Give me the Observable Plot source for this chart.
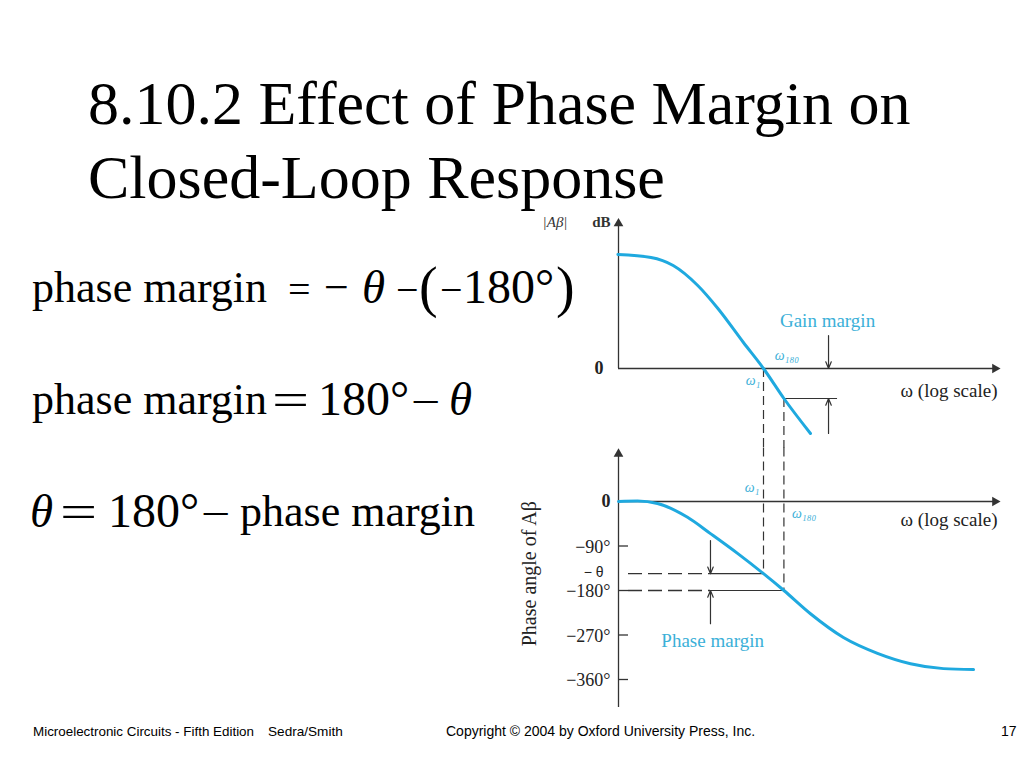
<!DOCTYPE html>
<html>
<head>
<meta charset="utf-8">
<script src="https://cdn.jsdelivr.net/npm/d3@7"></script>
<script src="https://cdn.jsdelivr.net/npm/@observablehq/plot@0.6"></script>
<style>
  html, body { margin: 0; padding: 0; background: #fff; }
  #slide { position: relative; width: 1024px; height: 768px; overflow: hidden; background: #fff; }
  .serif { font-family: "Liberation Serif", "Times New Roman", serif; color: #000; }
  #title { position: absolute; left: 88px; top: 66px; font-size: 62px; line-height: 74px; white-space: nowrap; }
  .tok { position: absolute; white-space: nowrap; line-height: 1; font-family: "Liberation Serif", "Times New Roman", serif; color: #000; }
  .footer { position: absolute; top: 723px; font-family: "Liberation Sans Narrow", "Arial Narrow", "Liberation Sans", Arial, sans-serif; font-size: 14px; color: #000; white-space: nowrap; }
  .plot { position: absolute; left: 510px; }
  .plot svg { overflow: visible; }
</style>
</head>
<body>
<div id="slide">
  <div id="title" class="serif">8.10.2 Effect of Phase Margin on<br>Closed-Loop Response</div>
  <div id="eqs"></div>
  <div class="footer" style="left:33px;font-size:13.4px;top:723.5px">Microelectronic Circuits - Fifth Edition</div>
  <div class="footer" style="left:268px;font-size:13.6px;top:723.5px">Sedra/Smith</div>
  <div class="footer" style="left:446px">Copyright © 2004 by Oxford University Press, Inc.</div>
  <div class="footer" style="left:1001px">17</div>
  <div id="top" class="plot" style="top:205px"></div>
  <div id="bottom" class="plot" style="top:440px"></div>
</div>
<script>
// ---- data ----
const omegaMag   = [0.035, 0.075, 0.125, 0.22, 0.35, 0.63, 1, 1.6, 2.95];
const gainDb     = [57, 55.5, 51.5, 41.5, 30, 13, 0, -15, -32.5];
const omegaPhase = [0.0355, 0.055, 0.087, 0.174, 0.295, 0.55, 1, 1.6, 2.95, 6.3, 13.8, 29.5, 63, 126];
const phaseDeg   = [0, 1, -4, -32, -65, -105, -146, -180, -227, -275, -307, -328, -338, -340];
const omega1 = 1;          // gain crossover
const omega180 = 1.6;      // phase crossover
const theta = 146;         // -theta = phase at omega1
const phaseTicks = [-90, -180, -270, -360];
const phaseTickLabels = ["−90°", "−180°", "−270°", "−360°"];
const gainMarginDb = -15;

// ---- equations (text tokens) ----
const eqTokens = [
  // [text, left, baseline, fontSize, italic, scaleX]
  ["phase margin", 32, 303, 44, false, 1],
  ["=", 288, 303, 40, false, 1],
  ["−", 324, 303, 44, false, 1],
  ["θ", 362, 303, 47, true, 1],
  ["−", 396, 303, 40, false, 1],
  ["(", 419, 306, 56, false, 1],
  ["−", 440, 303, 40, false, 1],
  ["180°", 463, 303, 48, false, 1],
  [")", 556, 306, 56, false, 1],
  ["phase margin", 32, 415, 44, false, 1],
  ["=", 272, 415, 47, false, 1.4],
  ["180°", 318, 415, 48, false, 1],
  ["−", 411, 415, 40, false, 1.3],
  ["θ", 449, 415, 47, true, 1],
  ["θ", 30, 527, 47, true, 1],
  ["=", 60, 527, 47, false, 1.4],
  ["180°", 108, 527, 48, false, 1],
  ["−", 201, 527, 40, false, 1.3],
  ["phase margin", 240, 527, 44, false, 1]
];
const eqs = document.getElementById("eqs");
for (const [t, x, base, fs, it, sx] of eqTokens) {
  const s = document.createElement("span");
  s.className = "tok";
  s.textContent = t;
  s.style.left = x + "px";
  s.style.top = (base - 0.8375 * fs) + "px";
  s.style.fontSize = fs + "px";
  if (it) s.style.fontStyle = "italic";
  if (sx !== 1) { s.style.transform = `scaleX(${sx})`; s.style.transformOrigin = "left"; }
  eqs.appendChild(s);
}

const cyan = "#1fa9df";
const cyanText = "#3bb0d8";
const ink = "#333";
const font = "Liberation Serif, Times New Roman, serif";

const xMin = Math.pow(10, -1.45), xMax = Math.pow(10, 2.34);
const W = 500;
const common = {
  width: W, marginLeft: 108, marginRight: 13,
  x: {type: "log", domain: [xMin, xMax], axis: null},
  style: {background: "transparent", fontFamily: font, overflow: "visible"}
};

// ---- magnitude plot ----
const magData = omegaMag.map((w, i) => ({w, db: gainDb[i]}));
const topPlot = Plot.plot({
  ...common,
  height: 240, marginTop: 10, marginBottom: 10,
  y: {domain: [-33.5, 76.5], axis: null},
  marks: [
    Plot.ruleX([xMin], {y1: 0, y2: 72, stroke: ink, strokeWidth: 1.3}),
    Plot.dot([{x: xMin, y: 72.5}], {x: "x", y: "y", symbol: "triangle", r: 3.6, fill: ink, stroke: null}),
    Plot.ruleY([0], {x1: xMin, x2: xMax / 1.07, stroke: ink, strokeWidth: 1.3}),
    Plot.dot([{x: xMax / 1.06, y: 0}], {x: "x", y: "y", symbol: "triangle", r: 3.6, rotate: 90, fill: ink, stroke: null}),
    // dashed verticals
    Plot.ruleX([omega1], {y1: 0, y2: -40, stroke: ink, strokeWidth: 1.2, strokeDasharray: "9,5"}),
    Plot.ruleX([omega180], {y1: gainMarginDb, y2: -40, stroke: ink, strokeWidth: 1.2, strokeDasharray: "9,5"}),
    // gain margin
    Plot.ruleY([gainMarginDb], {x1: omega180, x2: 5.5, stroke: ink, strokeWidth: 1.2}),
    Plot.arrow([{x: 4.47, y1: -32.5, y2: gainMarginDb}], {x: "x", y1: "y1", y2: "y2", stroke: ink, strokeWidth: 1.2, headLength: 9, headAngle: 45}),
    Plot.arrow([{x: 4.47, y1: 16.5, y2: 0}], {x: "x", y1: "y1", y2: "y2", stroke: ink, strokeWidth: 1.2, headLength: 9, headAngle: 45}),
    // curve
    Plot.line(magData, {x: "w", y: "db", stroke: cyan, strokeWidth: 3, curve: "monotone-x"}),
    // labels
    Plot.text(["Gain margin"], {x: 4.37, y: 24, fill: cyanText, fontSize: 19, textAnchor: "middle", fontFamily: font}),
    Plot.text(["ω₁₈₀"], {x: omega180, y: 6.5, dx: 3, fill: cyanText, fontSize: 14, fontStyle: "italic", textAnchor: "middle", fontFamily: font}),
    Plot.text(["ω₁"], {x: omega1, y: -6, dx: -3, fill: cyanText, fontSize: 14, fontStyle: "italic", textAnchor: "end", fontFamily: font}),
    Plot.text(["0"], {x: xMin, y: 0, dx: -15, fill: "#222", fontSize: 18, textAnchor: "end", fontWeight: "bold", fontFamily: font}),
    Plot.text(["dB"], {x: xMin, y: 73, dx: -8, fill: "#333", fontSize: 15, textAnchor: "end", fontWeight: "bold", fontFamily: font}),
    Plot.text(["|Aβ|"], {x: xMin, y: 73, dx: -51, fill: "#333", fontSize: 15, fontStyle: "italic", textAnchor: "end", fontFamily: font}),
    Plot.text(["ω (log scale)"], {x: xMax, y: -11, fill: "#222", fontSize: 19, textAnchor: "end", fontFamily: font})
  ]
});
document.getElementById("top").appendChild(topPlot);

// ---- phase plot ----
const phData = omegaPhase.map((w, i) => ({w, deg: phaseDeg[i]}));
const pxPerDeg = 178 / 360;
const top0 = 51 / pxPerDeg, bot0 = -(206 / pxPerDeg);
const xTick = xMin * Math.pow(10, 0.1);
const xDash = xMin * Math.pow(10, 0.1);
const xArrow = 0.295;
const bottomPlot = Plot.plot({
  ...common,
  height: 272, marginTop: 10, marginBottom: 5,
  y: {domain: [bot0, top0], axis: null},
  marks: [
    Plot.ruleX([xMin], {y1: bot0, y2: top0 - 8, stroke: ink, strokeWidth: 1.3}),
    Plot.dot([{x: xMin, y: top0 - 7}], {x: "x", y: "y", symbol: "triangle", r: 3.6, fill: ink, stroke: null}),
    Plot.ruleY([0], {x1: xMin, x2: xMax / 1.07, stroke: ink, strokeWidth: 1.3}),
    Plot.dot([{x: xMax / 1.06, y: 0}], {x: "x", y: "y", symbol: "triangle", r: 3.6, rotate: 90, fill: ink, stroke: null}),
    Plot.ruleY(phaseTicks, {x1: xMin, x2: xTick, stroke: ink, strokeWidth: 1.3}),
    Plot.text(phaseTicks, {x: xMin, y: d => d, text: (d, i) => phaseTickLabels[i], dx: -8, dy: 1, textAnchor: "end", fontSize: 18, fill: "#222", fontFamily: font}),
    Plot.text(["0"], {x: xMin, y: 0, dx: -8, fill: "#222", fontSize: 18, textAnchor: "end", fontWeight: "bold", fontFamily: font}),
    Plot.text(["− θ"], {x: xMin, y: -theta, dx: -15, dy: -1.5, fill: "#222", fontSize: 14, textAnchor: "end", fontFamily: "Liberation Sans, Arial, sans-serif"}),
    // dashed verticals
    Plot.ruleX([omega1], {y1: top0 + 5, y2: -theta, stroke: ink, strokeWidth: 1.2, strokeDasharray: "9,5"}),
    Plot.ruleX([omega180], {y1: top0 + 5, y2: -180, stroke: ink, strokeWidth: 1.2, strokeDasharray: "9,5"}),
    // dashed horizontals + solid part
    Plot.ruleY([-theta], {x1: xDash, x2: xArrow, stroke: ink, strokeWidth: 1.3, strokeDasharray: "14,6"}),
    Plot.ruleY([-180], {x1: xDash, x2: xArrow, stroke: ink, strokeWidth: 1.3, strokeDasharray: "14,6"}),
    Plot.ruleY([-theta], {x1: xArrow, x2: omega1, stroke: ink, strokeWidth: 1.2}),
    Plot.ruleY([-180], {x1: xArrow, x2: omega180, stroke: ink, strokeWidth: 1.2}),
    // phase margin arrows
    Plot.arrow([{x: xArrow, y1: -79, y2: -theta}], {x: "x", y1: "y1", y2: "y2", stroke: ink, strokeWidth: 1.2, headLength: 9, headAngle: 45}),
    Plot.arrow([{x: xArrow, y1: -247, y2: -180}], {x: "x", y1: "y1", y2: "y2", stroke: ink, strokeWidth: 1.2, headLength: 9, headAngle: 45}),
    // curve
    Plot.line(phData, {x: "w", y: "deg", stroke: cyan, strokeWidth: 3, curve: "monotone-x"}),
    // labels
    Plot.text(["Phase margin"], {x: 0.31, y: -281, fill: cyanText, fontSize: 19, textAnchor: "middle", fontFamily: font}),
    Plot.text(["ω₁"], {x: omega1, y: 28, dx: -4, fill: cyanText, fontSize: 14, fontStyle: "italic", textAnchor: "end", fontFamily: font}),
    Plot.text(["ω₁₈₀"], {x: omega180, y: -24, dx: 8, fill: cyanText, fontSize: 14, fontStyle: "italic", textAnchor: "start", fontFamily: font}),
    Plot.text(["ω (log scale)"], {x: xMax, y: -38, fill: "#222", fontSize: 19, textAnchor: "end", fontFamily: font}),
    Plot.text(["Phase angle of Aβ"], {x: xMin, y: -146, dx: -89, rotate: -90, fill: "#222", fontSize: 20, textAnchor: "middle", fontFamily: font})
  ]
});
document.getElementById("bottom").appendChild(bottomPlot);
</script>
</body>
</html>
